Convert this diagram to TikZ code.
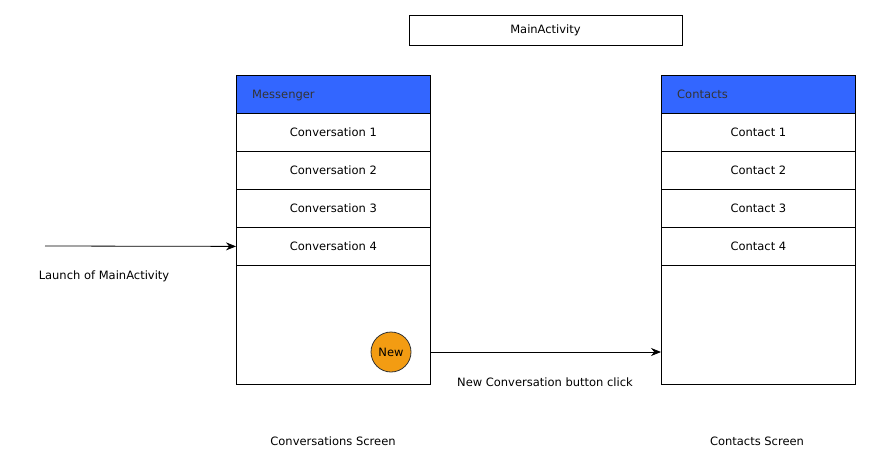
\documentclass[tikz,border=0pt]{standalone}
\usepackage{fontspec}
\setmainfont{DejaVu Sans}
\usetikzlibrary{arrows.meta}
\definecolor{hdrblue}{HTML}{3366FF}
\definecolor{neworange}{HTML}{F39C12}
\begin{document}
\begin{tikzpicture}[x=1pt,y=-1pt,
  every node/.style={font=\fontsize{11.5}{13}\selectfont},
  cell/.style={draw=black,line width=0.8pt,minimum width=194pt,minimum height=38pt,inner sep=0pt,anchor=north west},
  hdr/.style={cell,fill=hdrblue},
  body/.style={draw=black,line width=0.8pt,minimum width=194pt,minimum height=119pt,inner sep=0pt,anchor=north west},
  lbl/.style={inner sep=0pt},
  conn/.style={-{Stealth[length=10pt,width=8pt]},line width=0.8pt}]
\useasboundingbox (0,0) rectangle (870,471);
\node[draw=black,line width=0.8pt,minimum width=273pt,minimum height=30pt,inner sep=0pt,anchor=north west] (main) at (409,15) {};
\node[lbl] (maint) at (545.5,30) {MainActivity};
% left panel
\node[body] (lbody) at (236,265) {};
\node[hdr] (lhdr) at (236,75) {};
\node[lbl,anchor=base west,text=black!80] (lhdrt) at (252,98.5) {Messenger};
\node[cell] (c1) at (236,113) {};
\node[cell] (c2) at (236,151) {};
\node[cell] (c3) at (236,189) {};
\node[cell] (c4) at (236,227) {};
\node[lbl] at (c1.center) {Conversation 1};
\node[lbl] at (c2.center) {Conversation 2};
\node[lbl] at (c3.center) {Conversation 3};
\node[lbl] at (c4.center) {Conversation 4};
\node[circle,draw=black!80,line width=0.8pt,fill=neworange,minimum size=40pt,inner sep=0pt] (new) at (391,352) {New};
% right panel
\node[body] (rbody) at (661,265) {};
\node[hdr] (rhdr) at (661,75) {};
\node[lbl,anchor=base west,text=black!80] (rhdrt) at (677,98.5) {Contacts};
\node[cell] (k1) at (661,113) {};
\node[cell] (k2) at (661,151) {};
\node[cell] (k3) at (661,189) {};
\node[cell] (k4) at (661,227) {};
\node[lbl] at (k1.center) {Contact 1};
\node[lbl] at (k2.center) {Contact 2};
\node[lbl] at (k3.center) {Contact 3};
\node[lbl] at (k4.center) {Contact 4};
% connectors
\coordinate (start) at (45,246);
\draw[conn] (start) -- (c4.west);
\node[lbl] (launch) at (104,276) {Launch of MainActivity};
\coordinate (newout) at (430,352);
\coordinate (newin) at (661,352);
\draw[conn] (newout) -- (newin);
\node[lbl] (click) at (545,382) {New Conversation button click};
\node[lbl] (cs) at (333,441) {Conversations Screen};
\node[lbl] (ks) at (757,441) {Contacts Screen};
\end{tikzpicture}
\end{document}
